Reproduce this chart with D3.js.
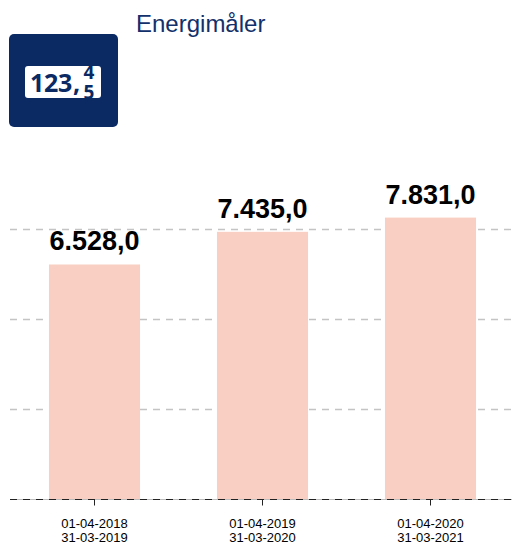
<!DOCTYPE html>
<html>
<head>
<meta charset="utf-8">
<script src="https://cdn.jsdelivr.net/npm/d3@7"></script>
<style>
  html, body { margin: 0; padding: 0; background: #fff; }
  svg { display: block; }
  text { font-family: "Liberation Sans", Arial, sans-serif; }
  text.digit { font-family: "Open Sans", sans-serif; font-weight: bold; }
</style>
</head>
<body>
<div id="chart"></div>
<script>
var title = 'Energimåler';
var periodStart = ['01-04-2018', '01-04-2019', '01-04-2020'];
var periodEnd = ['31-03-2019', '31-03-2020', '31-03-2021'];
var energyValues = [6528, 7435, 7831];
var gridTicks = [2500, 5000, 7500];

var navy = '#0b2a63';
var width = 512;
var height = 544;

var svg = d3.select('#chart').append('svg')
    .attr('width', width)
    .attr('height', height);

var xAxis = d3.scaleBand().domain(periodStart).range([10.5, 514.5]).paddingInner(0.458).paddingOuter(0.229);
var yAxis = d3.scaleLinear().domain([0, 2500]).range([499.5, 409.5]);

var formatValue = function (d) {
    return d3.format(',.1f')(d).replace(/,/g, '#').replace('.', ',').replace('#', '.');
};

// heading and icon
svg.append('text')
    .attr('x', 136).attr('y', 32)
    .attr('font-size', 24)
    .attr('fill', '#12316b')
    .text(title);

var icon = svg.append('g');
icon.append('rect')
    .attr('x', 9).attr('y', 34).attr('width', 109).attr('height', 93).attr('rx', 5)
    .attr('fill', navy);
icon.append('rect')
    .attr('x', 25).attr('y', 66).attr('width', 76).attr('height', 32).attr('rx', 3)
    .attr('fill', '#fff');

svg.append('clipPath').attr('id', 'digit-clip').append('rect')
    .attr('x', 25).attr('y', 58).attr('width', 76).attr('height', 40);

var digits = icon.append('g')
    .attr('clip-path', 'url(#digit-clip)')
    .attr('fill', navy);
digits.append('text')
    .attr('class', 'digit')
    .attr('x', '30 44 58 73').attr('y', 92)
    .attr('font-size', 25)
    .text('123,');
digits.append('text')
    .attr('class', 'digit')
    .attr('x', 89).attr('y', 79).attr('text-anchor', 'middle')
    .attr('font-size', 19)
    .text('4');
digits.append('text')
    .attr('class', 'digit')
    .attr('x', 89).attr('y', 99).attr('text-anchor', 'middle')
    .attr('font-size', 19)
    .text('5');

// grid
svg.append('g').selectAll('line')
    .data(gridTicks)
    .join('line')
    .attr('x1', 10).attr('x2', 512)
    .attr('y1', function (d) { return yAxis(d); })
    .attr('y2', function (d) { return yAxis(d); })
    .attr('stroke', '#c4c4c4')
    .attr('stroke-width', 1.4)
    .attr('stroke-dasharray', '7 6');

// bars
svg.append('g').selectAll('rect')
    .data(energyValues)
    .join('rect')
    .attr('x', function (d, i) { return xAxis(periodStart[i]); })
    .attr('y', function (d) { return yAxis(d); })
    .attr('width', xAxis.bandwidth())
    .attr('height', function (d) { return yAxis(0) - yAxis(d); })
    .attr('fill', '#f9cfc3');

svg.append('g').selectAll('text')
    .data(energyValues)
    .join('text')
    .attr('x', function (d, i) { return xAxis(periodStart[i]) + xAxis.bandwidth() / 2; })
    .attr('y', function (d) { return yAxis(d) - 14; })
    .attr('text-anchor', 'middle')
    .attr('font-size', 27)
    .attr('font-weight', 'bold')
    .attr('fill', '#000')
    .text(formatValue);

// x axis, dashed over a grey base line
svg.append('line')
    .attr('x1', 10).attr('x2', 512)
    .attr('y1', yAxis(0)).attr('y2', yAxis(0))
    .attr('stroke', '#bdbdbd');

var axis = svg.append('g')
    .attr('transform', 'translate(0,' + yAxis(0) + ')')
    .call(d3.axisBottom(xAxis).tickSize(6).tickFormat(''));
axis.select('.domain')
    .attr('d', 'M10,0H512')
    .attr('stroke', '#222')
    .attr('stroke-dasharray', '7 6');
axis.selectAll('.tick line').attr('stroke', '#222');

var labels = svg.append('g').selectAll('text')
    .data(periodStart)
    .join('text')
    .attr('transform', function (d) {
        return 'translate(' + (xAxis(d) + xAxis.bandwidth() / 2) + ',0)';
    })
    .attr('text-anchor', 'middle')
    .attr('font-size', 13)
    .attr('fill', '#000');
labels.append('tspan').attr('x', 0).attr('y', 527.5).text(function (d) { return d; });
labels.append('tspan').attr('x', 0).attr('y', 541.5).text(function (d, i) { return periodEnd[i]; });
</script>
</body>
</html>
